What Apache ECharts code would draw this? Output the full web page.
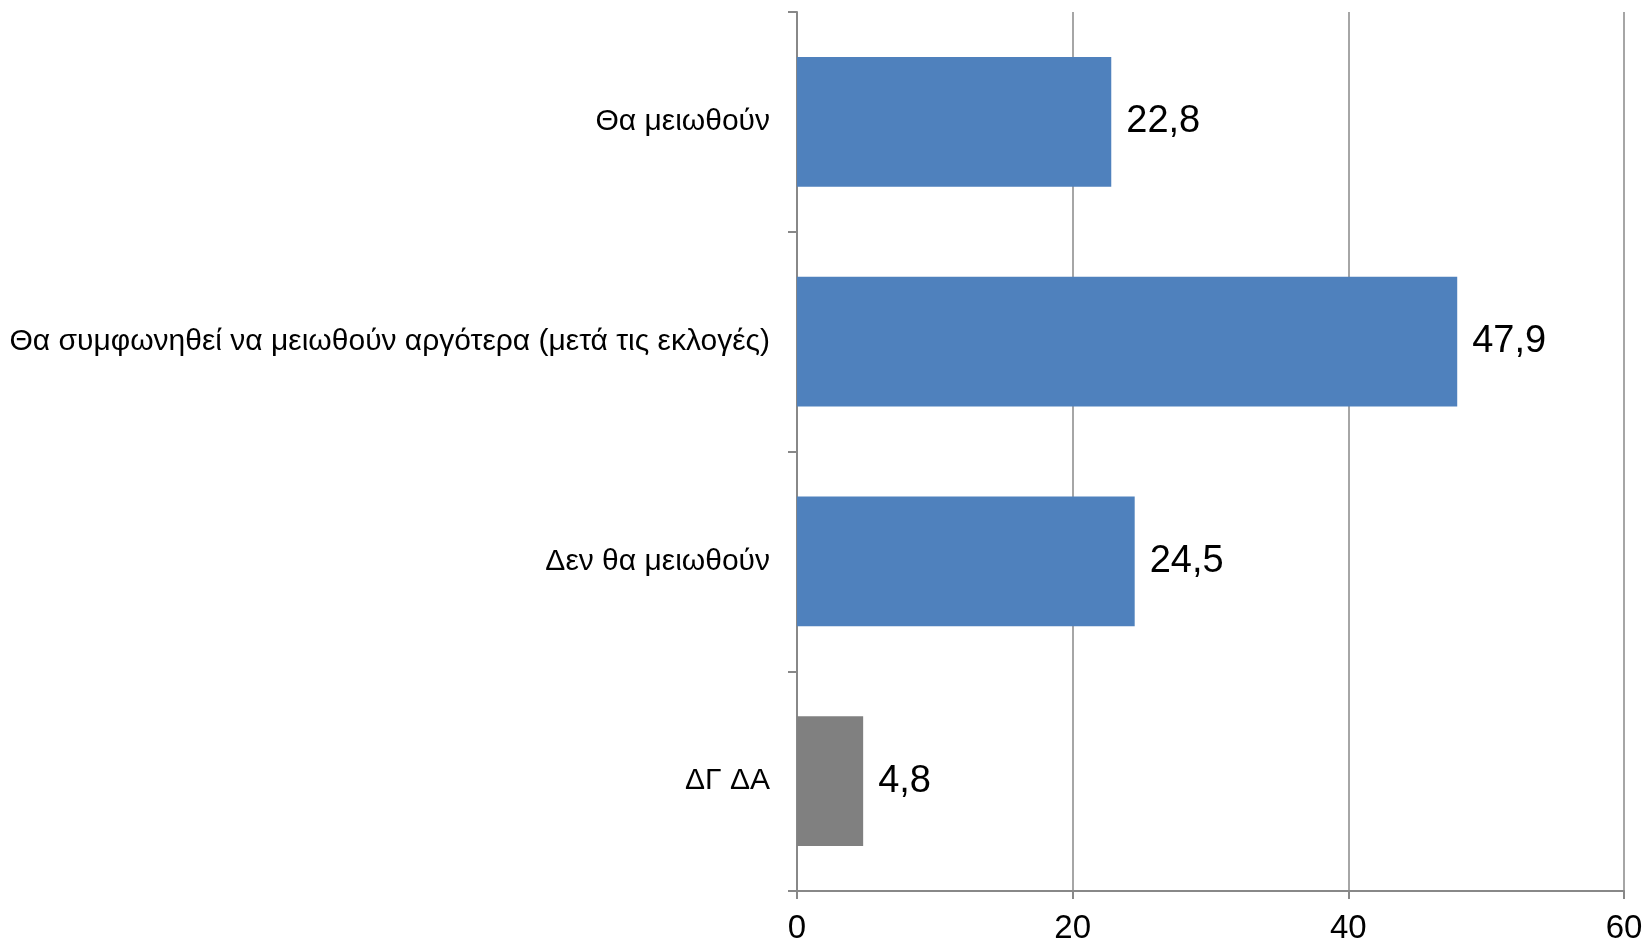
<!DOCTYPE html>
<html><head><meta charset="utf-8">
<script src="https://cdn.jsdelivr.net/npm/echarts@6/dist/echarts.min.js"></script>
<style>html,body{margin:0;padding:0;background:#fff}#c{width:1646px;height:945px}</style>
</head><body><div id="c"></div>
<script>
const categories = ['Θα μειωθούν', 'Θα συμφωνηθεί να μειωθούν αργότερα (μετά τις εκλογές)', 'Δεν θα μειωθούν', 'ΔΓ ΔΑ'];
const values = [22.8, 47.9, 24.5, 4.8];
const barColors = ['#4F81BD', '#4F81BD', '#4F81BD', '#808080'];
const xTicks = [0, 20, 40, 60];

const chart = echarts.init(document.getElementById('c'));
chart.setOption({
  animation: false,
  textStyle: { fontFamily: 'Liberation Sans, Arial, sans-serif' },
  grid: { left: 797, top: 12, right: 22, bottom: 53, containLabel: false },
  xAxis: {
    type: 'value', min: xTicks[0], max: xTicks[xTicks.length - 1], interval: 20,
    axisLine: { show: true, lineStyle: { color: '#888888', width: 2 } },
    axisTick: { show: true, length: 8, lineStyle: { color: '#888888', width: 2 } },
    splitLine: { show: true, lineStyle: { color: '#888888', width: 1.5 } },
    axisLabel: { color: '#000', fontSize: 33, margin: 21 }
  },
  yAxis: {
    type: 'category', data: categories, inverse: true,
    axisLine: { show: true, lineStyle: { color: '#888888', width: 2 } },
    axisTick: { show: true, length: 9, lineStyle: { color: '#888888', width: 2 } },
    axisLabel: { color: '#000', fontSize: 30, margin: 27 }
  },
  series: [{
    type: 'bar',
    data: values.map((v, i) => ({ value: v, itemStyle: { color: barColors[i] } })),
    barCategoryGap: '41%',
    label: {
      show: true, position: 'right', distance: 15, color: '#000', fontSize: 38,
      formatter: p => String(p.value).replace('.', ',')
    }
  }]
});
</script></body></html>
